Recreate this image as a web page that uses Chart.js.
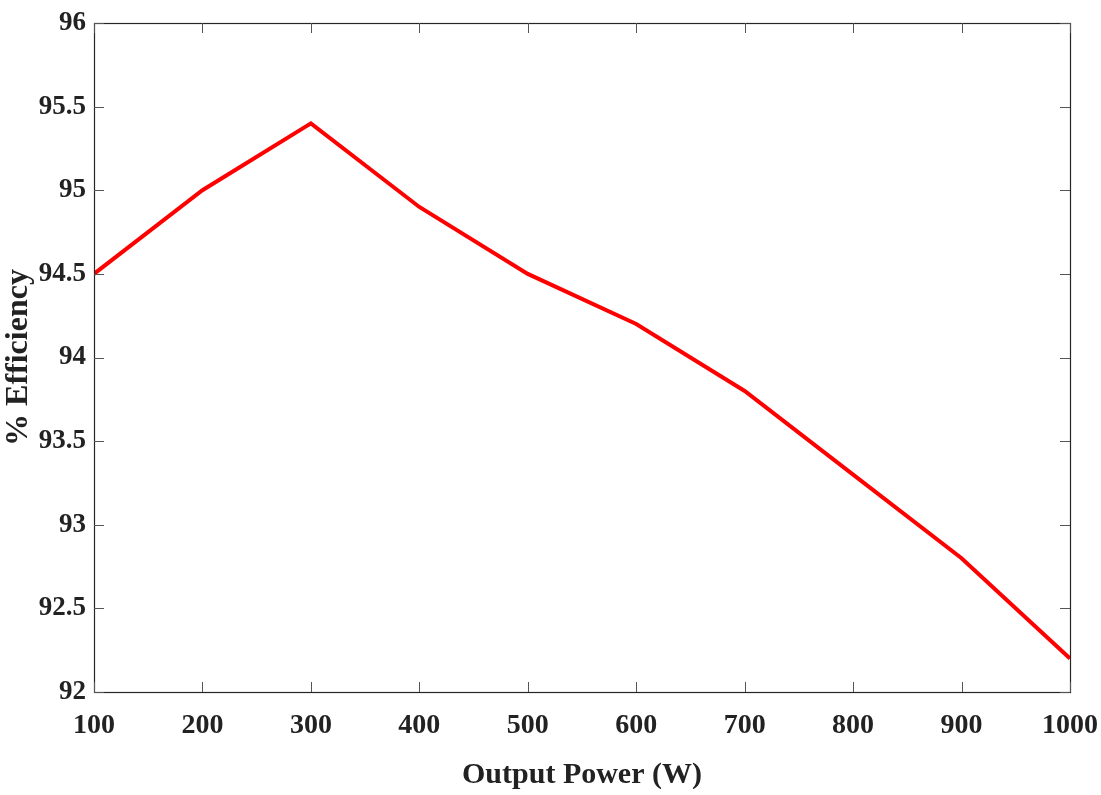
<!DOCTYPE html>
<html>
<head>
<meta charset="utf-8">
<script src="https://cdn.jsdelivr.net/npm/chart.js@4/dist/chart.umd.min.js"></script>
<style>
  html, body { margin: 0; padding: 0; background: #fff; }
  #wrap { width: 1101px; height: 795px; }
</style>
</head>
<body>
<div id="wrap"><canvas id="c" width="1101" height="795"></canvas></div>
<script>
// output power (W) and measured efficiency (%)
const powerW = [100, 200, 300, 400, 500, 600, 700, 800, 900, 1000];
const efficiency = [94.5, 95.0, 95.4, 94.9, 94.5, 94.2, 93.8, 93.3, 92.8, 92.2];
const xTicks = [100, 200, 300, 400, 500, 600, 700, 800, 900, 1000];
const yTicks = [92, 92.5, 93, 93.5, 94, 94.5, 95, 95.5, 96];

const FONT = "'Liberation Serif', 'Times New Roman', serif";

// matlab style: box round the plot, ticks pointing inward on all four sides
const boxPlugin = {
  id: 'box',
  afterDatasetsDraw(chart) {
    const { ctx, chartArea: a, scales } = chart;
    ctx.save();
    ctx.strokeStyle = '#262626';
    ctx.lineWidth = 1.2;
    ctx.strokeRect(a.left + 0.5, a.top + 0.5, a.right - a.left, a.bottom - a.top);
    ctx.lineWidth = 1;
    ctx.strokeStyle = '#555';
    const len = 10;
    ctx.beginPath();
    xTicks.forEach(v => {
      const x = Math.round(scales.x.getPixelForValue(v)) + 0.5;
      ctx.moveTo(x, a.bottom); ctx.lineTo(x, a.bottom - len);
      ctx.moveTo(x, a.top); ctx.lineTo(x, a.top + len);
    });
    yTicks.forEach(v => {
      const y = Math.round(scales.y.getPixelForValue(v)) + 0.5;
      ctx.moveTo(a.left, y); ctx.lineTo(a.left + len, y);
      ctx.moveTo(a.right, y); ctx.lineTo(a.right - len, y);
    });
    ctx.stroke();
    ctx.restore();
  }
};

new Chart(document.getElementById('c'), {
  type: 'line',
  data: {
    datasets: [{
      data: powerW.map((p, i) => ({ x: p, y: efficiency[i] })),
      borderColor: '#ff0000',
      borderWidth: 4,
      pointRadius: 0,
      tension: 0,
      fill: false
    }]
  },
  options: {
    responsive: false,
    animation: false,
    layout: { padding: { left: 0, top: 23, right: 31, bottom: 0 } },
    plugins: { legend: { display: false }, tooltip: { enabled: false } },
    scales: {
      x: {
        type: 'linear',
        min: 100, max: 1000,
        afterBuildTicks: s => { s.ticks = xTicks.map(v => ({ value: v })); },
        afterFit: s => { s.height = 103; s.paddingLeft = 0; s.paddingRight = 0; },
        grid: { display: false, drawTicks: false },
        border: { display: false },
        ticks: {
          padding: 17,
          color: '#222',
          font: { family: FONT, size: 28, weight: 'bold' },
          maxRotation: 0,
          callback: v => String(v)
        },
        title: {
          display: true,
          text: 'Output Power (W)',
          color: '#222',
          padding: { top: 0, bottom: 2 },
          font: { family: FONT, size: 30, weight: 'bold' }
        }
      },
      y: {
        min: 92, max: 96,
        afterBuildTicks: s => { s.ticks = yTicks.map(v => ({ value: v })); },
        afterFit: s => { s.width = 94; s.paddingTop = 0; s.paddingBottom = 0; },
        grid: { display: false, drawTicks: false },
        border: { display: false },
        ticks: {
          padding: 8,
          color: '#222',
          font: { family: FONT, size: 27, weight: 'bold' },
          callback: v => String(v)
        },
        title: {
          display: true,
          text: '% Efficiency',
          color: '#222',
          padding: { top: 0, bottom: 0 },
          font: { family: FONT, size: 32, weight: 'bold' }
        }
      }
    }
  },
  plugins: [boxPlugin]
});
</script>
</body>
</html>
